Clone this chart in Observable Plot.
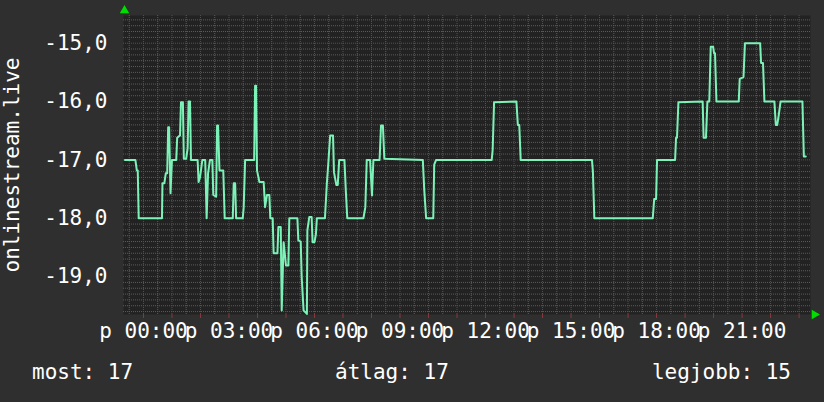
<!DOCTYPE html>
<html><head><meta charset="utf-8">
<script src="https://cdn.jsdelivr.net/npm/d3@7"></script>
<script src="https://cdn.jsdelivr.net/npm/@observablehq/plot@0.6"></script>
<style>
html,body{margin:0;padding:0;background:#2f2f2f;}
#wrap{width:824px;height:402px;position:relative;overflow:hidden;font-family:"DejaVu Sans Mono",monospace;color:#fff;}
#chart{position:absolute;left:0;top:0;}
#legend{position:absolute;left:0;top:350px;width:824px;height:52px;font-size:21px;line-height:21px;}
#legend span{position:absolute;top:12px;white-space:pre;}
</style>
</head><body>
<div id="wrap"><div id="chart"></div><div id="legend"></div></div>
<script>
// [minutes since midnight, value]
const series = [
[-39,-17.0],[-17,-17.0],[-14,-17.18],[-12,-17.18],[-10,-18.0],[39,-18.0],[40,-17.4],[44,-17.4],[47,-17.23],[50,-17.23],
[52,-16.44],[54,-16.44],[57,-17.57],[60,-17.0],[69,-17.0],[71,-16.62],[77,-16.58],[79,-16.01],[83,-16.01],[85,-16.98],
[90,-16.98],[93,-16.8],[95,-16.0],[98,-16.0],[100,-17.0],[114,-17.0],[116,-17.38],[119,-17.3],[124,-17.0],[130,-17.0],
[133,-18.0],[136,-17.23],[140,-17.0],[145,-17.0],[147,-17.6],[153,-17.63],[155,-16.41],[157,-16.41],[160,-17.18],[168,-17.18],
[171,-18.0],[188,-18.0],[190,-17.4],[193,-17.4],[195,-18.0],[209,-18.0],[211,-17.81],[214,-17.0],[233,-17.0],[235,-15.73],
[237,-15.73],[239,-17.18],[244,-17.38],[253,-17.38],[256,-17.81],[260,-17.6],[265,-17.6],[267,-18.0],[272,-18.0],[274,-18.6],
[282,-18.6],[284,-18.15],[289,-18.15],[291,-19.58],[295,-18.41],[300,-18.81],[305,-18.81],[307,-18.0],[324,-18.0],[326,-18.38],
[331,-18.4],[333,-19.0],[337,-19.58],[344,-19.64],[345,-18.21],[349,-17.98],[354,-17.98],[356,-18.41],[360,-18.41],[363,-18.27],
[365,-18.0],[382,-18.0],[386,-17.41],[389,-17.07],[393,-16.58],[399,-16.58],[401,-17.21],[406,-17.43],[409,-17.43],[412,-17.0],
[423,-17.0],[426,-17.54],[429,-18.0],[463,-18.0],[467,-17.81],[470,-17.0],[477,-17.0],[481,-17.61],[484,-17.0],[497,-17.0],
[500,-16.41],[504,-16.41],[507,-16.98],[588,-17.0],[591,-17.51],[595,-18.0],[610,-18.0],[612,-17.08],[616,-17.0],[733,-17.0],
[735,-16.83],[738,-16.01],[785,-16.0],[788,-16.4],[791,-16.4],[794,-17.0],[944,-17.0],[946,-17.2],[949,-18.0],[1072,-18.0],
[1075,-17.67],[1079,-17.67],[1081,-17.0],[1119,-17.0],[1121,-16.62],[1123,-16.62],[1126,-16.01],[1177,-16.0],[1179,-16.62],[1184,-16.62],
[1187,-16.0],[1191,-16.0],[1194,-15.06],[1199,-15.06],[1201,-15.17],[1203,-15.17],[1206,-16.0],[1253,-16.0],[1255,-15.61],[1263,-15.58],
[1266,-15.0],[1298,-15.0],[1300,-15.34],[1304,-15.34],[1307,-16.0],[1328,-16.0],[1331,-16.4],[1334,-16.4],[1337,-16.24],[1341,-16.0],
[1387,-16.0],[1390,-16.94],[1394,-16.94]
];
const xTickHours = [0, 3, 6, 9, 12, 15, 18, 21];
const xTickLabels = ["p 00:00", "p 03:00", "p 06:00", "p 09:00", "p 12:00", "p 15:00", "p 18:00", "p 21:00"];
const yTicks = [-19, -18, -17, -16, -15];
const yTickLabels = ["-19,0", "-18,0", "-17,0", "-16,0", "-15,0"];
const seriesName = "onlinestream.live";
const legendLabels = ["most: 17", "átlag: 17", "legjobb: 15"];
const xRangeMinutes = [-42, 1404];
const yRange = [-19.65, -14.525];

const base = Date.UTC(2024, 0, 1);
const toDate = m => new Date(base + m * 60000);
const data = series.map(([m, v]) => ({t: toDate(m), v}));

const minorX = d3.range(-30, 1404, 30).filter(m => m % 60 !== 0).map(toDate);
const majorX = d3.range(0, 1404, 60).map(toDate);
const gridY = d3.range(-196, -145).map(d => d / 10);
const minorY = gridY.filter(d => Math.abs(d - Math.round(d)) > 1e-6);
const majorY = gridY.filter(d => Math.abs(d - Math.round(d)) < 1e-6);

const minorColor = "#5c5c5c", majorColor = "#8a3a3a";

const chart = Plot.plot({
  width: 824, height: 350,
  marginLeft: 123, marginRight: 14, marginTop: 15, marginBottom: 36,
  style: {background: "transparent", color: "#fff", fontFamily: "DejaVu Sans Mono, monospace", fontSize: "21px", overflow: "visible"},
  x: {type: "utc", domain: xRangeMinutes.map(toDate)},
  y: {domain: yRange},
  marks: [
    Plot.frame({fill: "#222222", stroke: null}),
    Plot.ruleX(minorX, {stroke: minorColor, strokeDasharray: "1,1"}),
    Plot.ruleY(minorY, {stroke: minorColor, strokeDasharray: "1,1"}),
    Plot.ruleX(majorX, {stroke: majorColor, strokeDasharray: "1,1"}),
    Plot.ruleY(majorY, {stroke: majorColor, strokeDasharray: "1,1"}),
    Plot.axisX(majorX, {tickSize: 4, tickFormat: () => "", stroke: majorColor, label: null}),
    Plot.axisX(xTickHours.map(h => toDate(h * 60)), {
      tickSize: 0, tickPadding: 9, label: null,
      tickFormat: d => xTickLabels[xTickHours.indexOf(d.getUTCHours())],
      fill: "#fff", fontSize: 21
    }),
    Plot.axisY(yTicks, {
      tickSize: 0, tickPadding: 16, label: null,
      tickFormat: d => yTickLabels[yTicks.indexOf(d)],
      fill: "#fff", fontSize: 21
    }),
    Plot.line(data, {x: "t", y: "v", stroke: "#7df2b8", strokeWidth: 2}),
    Plot.text([seriesName], {frameAnchor: "left", dx: -111, rotate: -90, textAnchor: "middle", lineAnchor: "middle", fill: "#fff", fontSize: 21, text: d => d}),
    Plot.dot([0], {frameAnchor: "top-left", dx: 1, dy: -5, symbol: "triangle", r: 3.5, fill: "#00dd00", stroke: null}),
    Plot.dot([0], {frameAnchor: "bottom-right", dx: 4, dy: 0, symbol: "triangle", rotate: 90, r: 3.5, fill: "#00dd00", stroke: null})
  ]
});
document.getElementById("chart").appendChild(chart);

const legend = document.getElementById("legend");
const pos = [{left: "32px"}, {left: "335px"}, {right: "33px"}];
legendLabels.forEach((t, i) => {
  const s = document.createElement("span");
  s.textContent = t;
  Object.assign(s.style, pos[i]);
  legend.appendChild(s);
});
</script>
</body></html>
